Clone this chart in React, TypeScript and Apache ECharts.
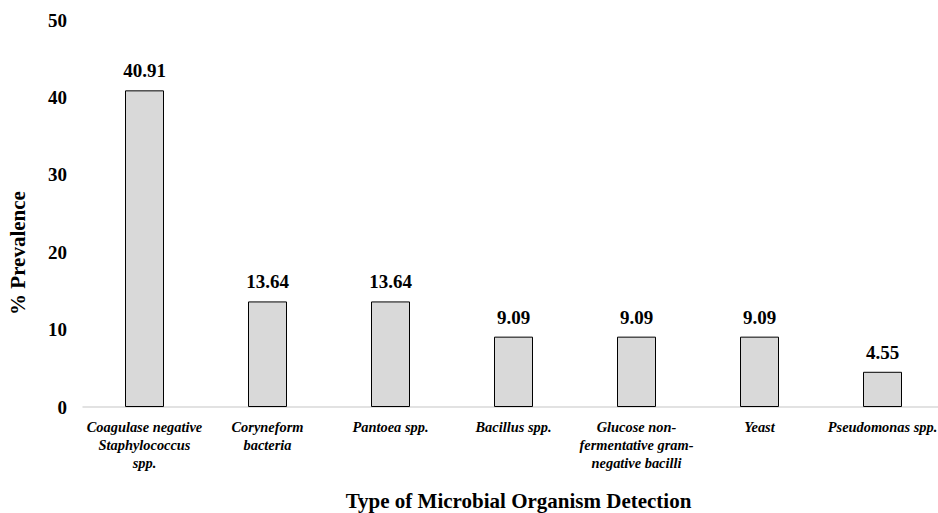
import React, { useEffect, useRef } from "react";
import * as echarts from "echarts";

const categories = [
  "Coagulase negative Staphylococcus spp.",
  "Coryneform bacteria",
  "Pantoea spp.",
  "Bacillus spp.",
  "Glucose non-fermentative gram-negative bacilli",
  "Yeast",
  "Pseudomonas spp.",
];
const prevalence = [40.91, 13.64, 13.64, 9.09, 9.09, 9.09, 4.55];
const wrapped: Record<string, string> = {
  "Coagulase negative Staphylococcus spp.": "Coagulase negative\nStaphylococcus\nspp.",
  "Coryneform bacteria": "Coryneform\nbacteria",
  "Glucose non-fermentative gram-negative bacilli": "Glucose non-\nfermentative gram-\nnegative bacilli",
};
const yAxisTitle = "% Prevalence";
const xAxisTitle = "Type of Microbial Organism Detection";

const FONT = "Liberation Serif";

export default function App() {
  const ref = useRef<HTMLDivElement>(null);
  useEffect(() => {
    document.body.style.margin = "0";
    const chart = echarts.init(ref.current!, null, { renderer: "svg", width: 938, height: 513 });
    chart.setOption({
      animation: false,
      backgroundColor: "#ffffff",
      grid: { left: 83, top: 20, height: 387, width: 861, outerBoundsMode: "none", containLabel: false },
      graphic: [
        {
          type: "text",
          x: 18,
          y: 253,
          rotation: Math.PI / 2,
          style: {
            text: yAxisTitle,
            fontFamily: FONT,
            fontWeight: "bold",
            fontSize: 21,
            fill: "#000",
            align: "center",
            verticalAlign: "middle",
          },
        },
      ],
      xAxis: {
        type: "category",
        data: categories,
        name: xAxisTitle,
        nameLocation: "middle",
        nameGap: 83,
        nameTextStyle: { fontFamily: FONT, fontWeight: "bold", fontSize: 21, lineHeight: 22, color: "#000", padding: [0, 0, 0, 10] },
        axisLine: { lineStyle: { color: "#d9d9d9", width: 1.5 } },
        axisTick: { show: false },
        axisLabel: {
          interval: 0,
          margin: 11,
          fontFamily: FONT,
          fontWeight: "bold",
          fontStyle: "italic",
          fontSize: 14.4,
          lineHeight: 18,
          color: "#000",
          formatter: (v: string) => wrapped[v] ?? v,
        },
      },
      yAxis: {
        type: "value",
        min: 0,
        max: 50,
        interval: 10,
        axisLine: { show: false },
        axisTick: { show: false },
        splitLine: { show: false },
        axisLabel: { margin: 16, fontFamily: FONT, fontWeight: "bold", fontSize: 19, color: "#000" },
      },
      series: [
        {
          type: "bar",
          data: prevalence,
          barWidth: 39,
          itemStyle: { color: "#d9d9d9", borderColor: "#000", borderWidth: 1 },
          label: {
            show: true,
            position: "top",
            distance: 10,
            formatter: (p: any) => p.value.toFixed(2),
            fontFamily: FONT,
            fontWeight: "bold",
            fontSize: 19,
            color: "#000",
          },
        },
      ],
    });
    return () => chart.dispose();
  }, []);
  return <div ref={ref} style={{ width: 938, height: 513 }} />;
}
